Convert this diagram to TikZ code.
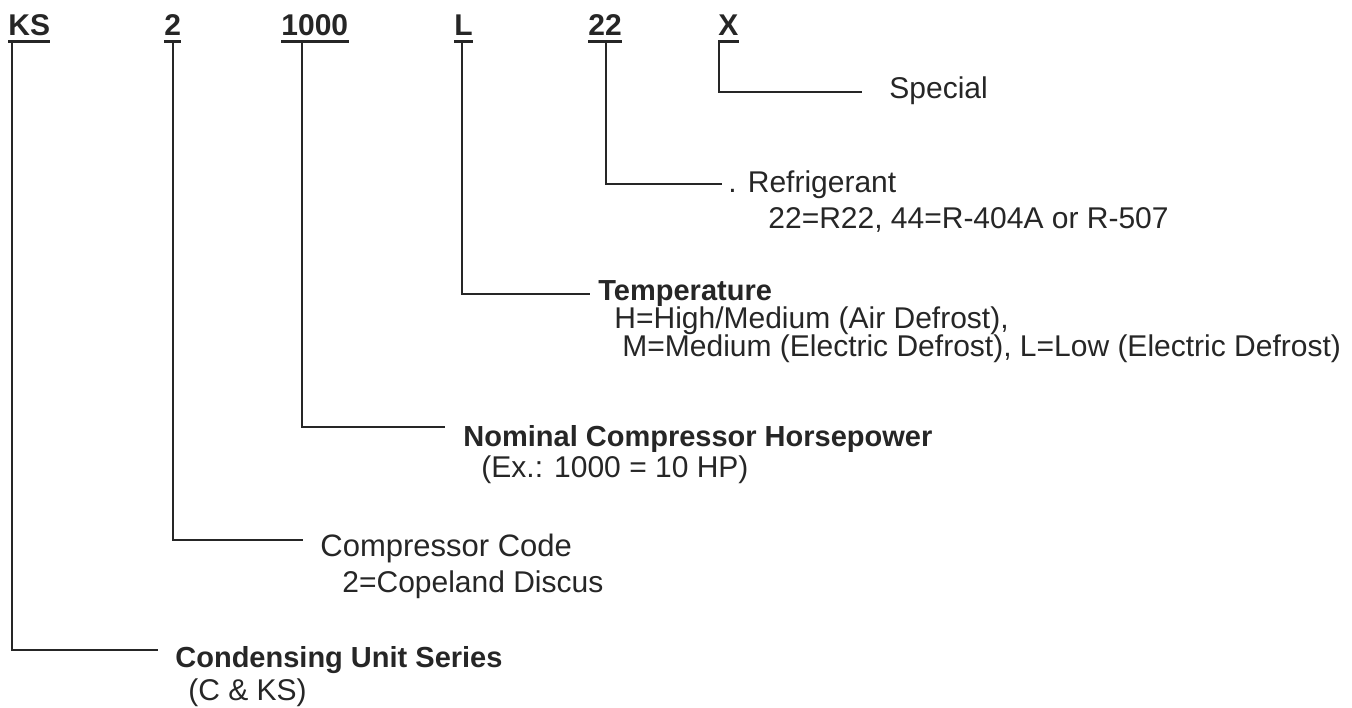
\documentclass[tikz,border=0pt]{standalone}
\usepackage{fontspec}
\setmainfont{Liberation Sans}
\usetikzlibrary{positioning}
\tikzstyle{lead}=[line width=1pt, color=black!85]
\tikzstyle{uline}=[line width=1.6pt, color=black!85]

\begin{document}
\begin{tikzpicture}[x=0.5pt, y=-0.5pt,
  code/.style={anchor=base west, inner sep=0pt, text=black!85,
               font=\fontsize{15}{18}\selectfont\bfseries},
  desc/.style={anchor=base west, inner sep=0pt, text=black!85,
               font=\fontsize{15}{18}\selectfont},
  head/.style={desc, font=\fontsize{14.5}{17}\selectfont\bfseries}
]
\useasboundingbox (0,0) rectangle (1352,707);

% model code
\node[code] (ks)   at (8,35)   {KS};
\node[code] (cc)   at (164,35) {2};
\node[code] (hp)   at (281,35) {1000};
\node[code] (temp) at (454,35) {L};
\node[code] (refr) at (588,35) {22};
\node[code] (spec) at (718,35) {X};

\foreach \n in {ks,cc,hp,temp,refr,spec}
  \draw[uline] ([yshift=-3.4pt]\n.base west) -- ([yshift=-3.4pt]\n.base east);

% descriptions
\node[desc] (specl) at (889,98)  {Special};
\node[desc] (refl)  at (728,192) {. Refrigerant};
\node[desc] (refd)  at (768,228) {22=R22, 44=R-404A or R-507};
\node[head] (templ) at (598,300) {Temperature};
\node[desc] (tempa) at (614,328) {H=High/Medium (Air Defrost),};
\node[desc] (tempb) at (622,356) {M=Medium (Electric Defrost), L=Low (Electric Defrost)};
\node[head] (hpl)   at (463,446) {Nominal Compressor Horsepower};
\node[desc] (hpd)   at (481,477) {(Ex.: 1000 = 10 HP)};
\node[desc, font=\fontsize{15.5}{18}\selectfont] (ccl) at (320,556) {Compressor Code};
\node[desc] (ccd)   at (342,592) {2=Copeland Discus};
\node[head] (ksl)   at (175,667) {Condensing Unit Series};
\node[desc] (ksd)   at (188,700) {(C \& KS)};

% leader ends
\coordinate (specend) at (862,92);
\coordinate (refend)  at (722,184);
\coordinate (tempend) at (590,294);
\coordinate (hpend)   at (445,427);
\coordinate (ccend)   at (303,540);
\coordinate (ksend)   at (158,650);

\draw[lead] ([xshift=2pt,yshift=-4.2pt]ks.base west)     |- (ksend);
\draw[lead] ([xshift=4.5pt,yshift=-4.2pt]cc.base west)   |- (ccend);
\draw[lead] ([xshift=10.5pt,yshift=-4.2pt]hp.base west)  |- (hpend);
\draw[lead] ([xshift=4pt,yshift=-4.2pt]temp.base west)   |- (tempend);
\draw[lead] ([xshift=9pt,yshift=-4.2pt]refr.base west)   |- (refend);
\draw[lead] ([xshift=0.3pt,yshift=-4.2pt]spec.base west) |- (specend);
\end{tikzpicture}
\end{document}
